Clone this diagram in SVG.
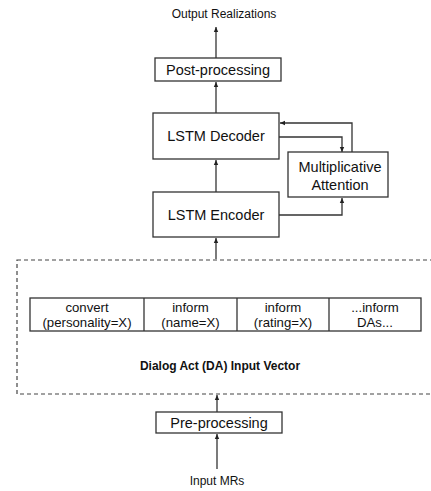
<svg xmlns="http://www.w3.org/2000/svg" width="431" height="491" viewBox="0 0 431 491">
<defs>
<marker id="ah" markerWidth="6" markerHeight="6" refX="5" refY="3" orient="auto" markerUnits="userSpaceOnUse">
<path d="M0,0.8 L5,3 L0,5.2 Z" fill="#222"/>
</marker>
<style>
.box{fill:#fff;stroke:#333;stroke-width:1.3}
.t{font-family:"Liberation Sans",Arial,sans-serif;fill:#111;text-anchor:middle}
.n{font-size:14.5px}
.c{font-size:13.2px}
.s{font-size:12px}
.b{font-size:12px;font-weight:bold}
.ln{fill:none;stroke:#333;stroke-width:1.3}
.ar{fill:none;stroke:#333;stroke-width:1.3;marker-end:url(#ah)}
.dash{fill:none;stroke:#444;stroke-width:1.2;stroke-dasharray:4 3}
</style>
</defs>
<rect width="431" height="491" fill="#fff"/>
<g id="connectors">
<line class="ar" x1="216" y1="58" x2="216" y2="27"/>
<line class="ar" x1="216" y1="113" x2="216" y2="82"/>
<line class="ar" x1="216" y1="192" x2="216" y2="160"/>
<line class="ar" x1="216" y1="259" x2="216" y2="238"/>
<polyline class="ar" points="279,137 342,137 342,152"/>
<polyline class="ar" points="352,152 352,123 280,123"/>
<polyline class="ar" points="279,215 342,215 342,198"/>
<line class="ar" x1="217" y1="412" x2="217" y2="395"/>
<line class="ar" x1="217" y1="469" x2="217" y2="434"/>
</g>
<g id="output-label"><text class="t s" x="224" y="18">Output Realizations</text></g>
<g id="post-processing">
<rect class="box" x="155" y="58" width="126" height="23"/>
<text class="t n" x="218" y="75">Post-processing</text>
</g>
<g id="lstm-decoder">
<rect class="box" x="153" y="113" width="126" height="46"/>
<text class="t n" x="216" y="141">LSTM Decoder</text>
</g>
<g id="multiplicative-attention">
<rect class="box" x="288" y="152" width="100" height="45"/>
<text class="t n" x="340" y="172">Multiplicative</text>
<text class="t n" x="340" y="190">Attention</text>
</g>
<g id="lstm-encoder">
<rect class="box" x="153" y="192" width="126" height="45"/>
<text class="t n" x="216" y="220">LSTM Encoder</text>
</g>
<g id="da-input-vector">
<rect class="dash" x="17" y="260" width="430" height="134"/>
<rect class="box" x="30" y="298" width="391" height="33"/>
<line class="ln" x1="144" y1="298" x2="144" y2="331"/>
<line class="ln" x1="237" y1="298" x2="237" y2="331"/>
<line class="ln" x1="329" y1="298" x2="329" y2="331"/>
<text class="t c" x="87" y="311.5">convert</text>
<text class="t c" x="87" y="326.5">(personality=X)</text>
<text class="t c" x="190.5" y="311.5">inform</text>
<text class="t c" x="190.5" y="326.5">(name=X)</text>
<text class="t c" x="283" y="311.5">inform</text>
<text class="t c" x="283" y="326.5">(rating=X)</text>
<text class="t c" x="375" y="311.5">...inform</text>
<text class="t c" x="375" y="326.5">DAs...</text>
<text class="t b" x="220" y="370">Dialog Act (DA) Input Vector</text>
</g>
<g id="pre-processing">
<rect class="box" x="156" y="412" width="126" height="21"/>
<text class="t n" x="219" y="428">Pre-processing</text>
</g>
<g id="input-label"><text class="t s" x="217" y="485">Input MRs</text></g>
</svg>
